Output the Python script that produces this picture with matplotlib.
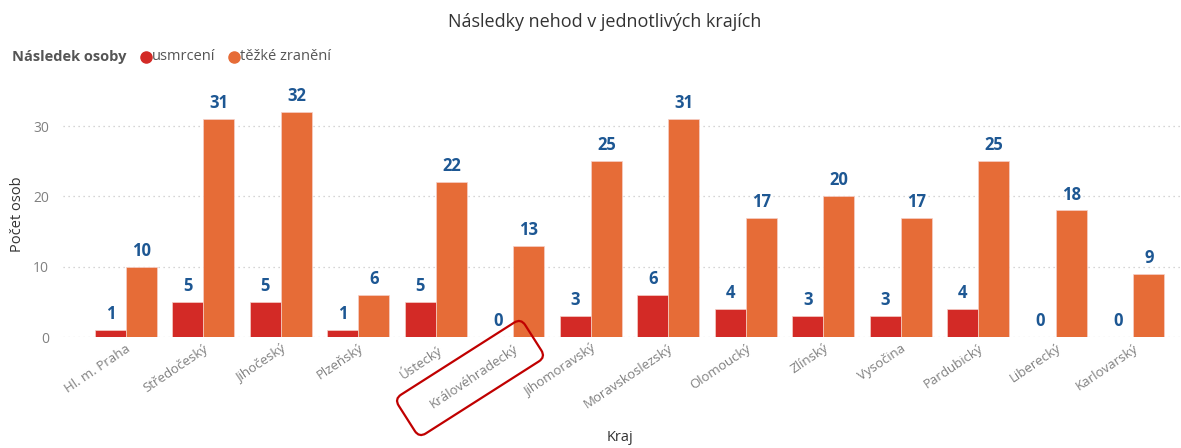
import numpy as np
import matplotlib
matplotlib.use("Agg")
import matplotlib.pyplot as plt
from matplotlib.patches import FancyBboxPatch
from matplotlib.transforms import Affine2D

kraje = ["Hl. m. Praha", "Středočeský", "Jihočeský", "Plzeňský", "Ústecký",
         "Královéhradecký", "Jihomoravský", "Moravskoslezský", "Olomoucký",
         "Zlínský", "Vysočina", "Pardubický", "Liberecký", "Karlovarský"]
usmrceni = [1, 5, 5, 1, 5, 0, 3, 6, 4, 3, 3, 4, 0, 0]
tezke = [10, 31, 32, 6, 22, 13, 25, 31, 17, 20, 17, 25, 18, 9]

plt.rcParams['font.family'] = ['Open Sans', 'DejaVu Sans']

W, H = 1181, 448
fig = plt.figure(figsize=(W / 100, H / 100), dpi=100)
ax = fig.add_axes([63 / W, 1 - 337 / H, (1180 - 63) / W, (337 - 91) / H])

red = "#D32A26"
orange = "#E66C37"
lblc = "#1D5793"
x = np.arange(len(kraje))
w = 0.4

b1 = ax.bar(x - w / 2, usmrceni, w, color=red, edgecolor='#f6d0c8', linewidth=0.5, zorder=2)
b2 = ax.bar(x + w / 2, tezke, w, color=orange, edgecolor='#f6d0c8', linewidth=0.5, zorder=2)
for bars in (b1, b2):
    ax.bar_label(bars, padding=5, color=lblc, fontsize=12, fontweight='bold')

ax.set_xlim(-0.81, 13.6)
ax.set_ylim(0, 35)
ax.set_yticks([0, 10, 20, 30])
ax.grid(axis='y', color='#c8c8c8', linestyle=(0, (1, 3)), linewidth=0.9, zorder=0)
ax.tick_params(length=0, labelcolor='#808080', labelsize=9.5)
ax.tick_params(axis='y', pad=10, labelsize=10)
ax.set_xticks(x)
ax.set_xticklabels(kraje, rotation=34, ha='right', rotation_mode='anchor')
for s in ax.spines.values():
    s.set_visible(False)

ax.set_ylabel("Počet osob", color='#333333', fontsize=10.5, labelpad=6)
fig.text(620 / W, 1 - 437 / H, "Kraj", ha='center', va='center',
         color='#333333', fontsize=10.5)
fig.text(605 / W, 1 - 22 / H, "Následky nehod v jednotlivých krajích",
         ha='center', va='center', color='#333333', fontsize=13)

# legenda
fig.text(12 / W, 1 - 57 / H, "Následek osoby", ha='left', va='center',
         color='#555555', fontsize=10.5, fontweight='bold')
fig.lines.append(plt.Line2D([146 / W], [1 - 57 / H], marker='o', color=red,
                            markersize=8, transform=fig.transFigure))
fig.text(152 / W, 1 - 57 / H, "usmrcení", ha='left', va='center',
         color='#555555', fontsize=10.5)
fig.lines.append(plt.Line2D([234 / W], [1 - 57 / H], marker='o', color=orange,
                            markersize=8, transform=fig.transFigure))
fig.text(240 / W, 1 - 57 / H, "těžké zranění", ha='left', va='center',
         color='#555555', fontsize=10.5)

# zvyrazneni Kralovehradecky
cx, cy = 470, H - 378
bw, bh = 150, 46
tr = Affine2D().rotate_deg_around(cx, cy, 32.5).scale(1 / W, 1 / H) + fig.transFigure
box = FancyBboxPatch((cx - bw / 2, cy - bh / 2), bw, bh,
                     boxstyle="round,pad=0,rounding_size=8",
                     fill=False, edgecolor='#C00000', linewidth=1.6,
                     transform=tr)
fig.patches.append(box)

fig.savefig("out.png", dpi=100)
